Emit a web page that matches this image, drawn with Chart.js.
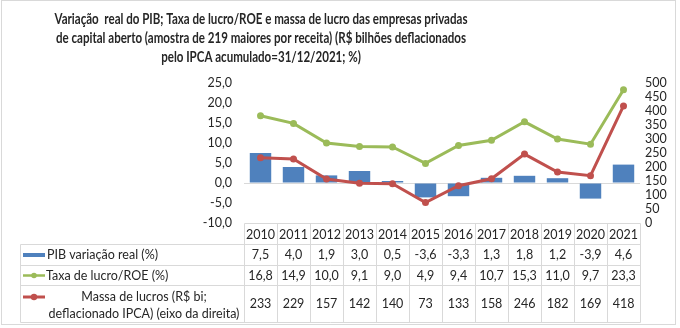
<!DOCTYPE html>
<html>
<head>
<meta charset="utf-8">
<script src="https://cdn.jsdelivr.net/npm/chart.js@4/dist/chart.umd.min.js"></script>
<style>
  html, body { margin: 0; padding: 0; background: #fff; }
  #wrap { width: 680px; height: 328px; position: relative; }
</style>
</head>
<body>
<div id="wrap"><canvas id="c" width="680" height="328"></canvas></div>
<script>
// ---- data ----
const years = ['2010','2011','2012','2013','2014','2015','2016','2017','2018','2019','2020','2021'];
const pibReal = [7.5, 4.0, 1.9, 3.0, 0.5, -3.6, -3.3, 1.3, 1.8, 1.2, -3.9, 4.6];
const taxaLucroRoe = [16.8, 14.9, 10.0, 9.1, 9.0, 4.9, 9.4, 10.7, 15.3, 11.0, 9.7, 23.3];
const massaLucros = [233, 229, 157, 142, 140, 73, 133, 158, 246, 182, 169, 418];

const leftAxis = { min: -10, max: 25, step: 5 };
const rightAxis = { min: 0, max: 500, step: 50 };

const titleLines = [
  'Variação  real do PIB; Taxa de lucro/ROE e massa de lucro das empresas privadas',
  'de capital aberto (amostra de 219 maiores por receita) (R$ bilhões deflacionados',
  'pelo IPCA acumulado=31/12/2021; %)'
];
const labelPib = 'PIB variação real (%)';
const labelRoe = 'Taxa de lucro/ROE (%)';
const labelMassa = ['Massa de lucros (R$ bi;', 'deflacionado IPCA) (eixo da direita)'];

// ---- styling ----
const BLUE = '#4F81BD';
const GREEN = '#9BBB59';
const RED = '#C0504D';
const TEXT = '#262626';
const LINE = '#d9d9d9';
const FONT = 'Lato, "Open Sans", sans-serif';

const fmt1 = v => Number(v).toFixed(1).replace('.', ',');

// title drawn above the plot, condensed to the available width
const titlePlugin = {
  id: 'chartTitle',
  afterDraw(chart) {
    const ctx = chart.ctx;
    ctx.save();
    ctx.fillStyle = TEXT;
    ctx.font = 'bold 15.5px ' + FONT;
    ctx.textBaseline = 'middle';
    ctx.textAlign = 'center';
    const widest = ctx.measureText(titleLines[1]).width;
    const sx = Math.min(1, 410 / widest);
    const cx = 261;
    const ys = [18.5, 38, 57];
    titleLines.forEach((t, i) => {
      ctx.save();
      ctx.translate(cx, ys[i]);
      ctx.scale(sx, 1);
      ctx.fillText(t, 0, 0);
      ctx.restore();
    });
    ctx.restore();
  }
};

// data table under the plot, columns aligned to the category scale
const tablePlugin = {
  id: 'dataTable',
  afterDraw(chart) {
    const { ctx, chartArea: a, scales: { x } } = chart;
    const n = years.length;
    const colW = (a.right - a.left) / n;
    const legendLeft = 20.5;
    const gridLeft = Math.round(a.left) + 0.5;
    const gridRight = Math.round(a.right) + 0.5;
    const rows = [a.bottom, a.bottom + 21, a.bottom + 41.5, a.bottom + 61.5, a.bottom + 98.5].map(v => Math.round(v) + 0.5);

    ctx.save();
    ctx.strokeStyle = LINE;
    ctx.lineWidth = 1;
    ctx.beginPath();
    // horizontal rules
    ctx.moveTo(gridLeft, rows[0]); ctx.lineTo(gridRight, rows[0]);
    for (let r = 1; r < rows.length; r++) {
      ctx.moveTo(legendLeft, rows[r]); ctx.lineTo(gridRight, rows[r]);
    }
    // vertical rules
    ctx.moveTo(legendLeft, rows[1]); ctx.lineTo(legendLeft, rows[4]);
    for (let i = 0; i <= n; i++) {
      const xx = Math.round(a.left + i * colW) + 0.5;
      ctx.moveTo(xx, rows[0]); ctx.lineTo(xx, rows[4]);
    }
    ctx.stroke();

    // cell text
    ctx.fillStyle = TEXT;
    ctx.font = '12.5px ' + FONT;
    ctx.textAlign = 'center';
    ctx.textBaseline = 'middle';
    const mid = r => (rows[r] + rows[r + 1]) / 2;
    years.forEach((yr, i) => {
      const cx = x.getPixelForValue(i);
      ctx.fillText(yr, cx, mid(0) + 0.5);
      ctx.fillText(fmt1(pibReal[i]), cx, mid(1));
      ctx.fillText(fmt1(taxaLucroRoe[i]), cx, mid(2));
      ctx.fillText(String(massaLucros[i]), cx, mid(3));
    });

    // series keys
    ctx.fillStyle = BLUE;
    ctx.fillRect(23, mid(1) - 2, 22, 4);

    ctx.strokeStyle = GREEN;
    ctx.lineWidth = 2.5;
    ctx.beginPath(); ctx.moveTo(23, mid(2)); ctx.lineTo(45, mid(2)); ctx.stroke();
    ctx.fillStyle = GREEN;
    ctx.beginPath(); ctx.arc(34, mid(2), 2.8, 0, Math.PI * 2); ctx.fill();

    const redY = mid(3) - 7;
    ctx.strokeStyle = RED;
    ctx.lineWidth = 3;
    ctx.beginPath(); ctx.moveTo(23, redY); ctx.lineTo(45, redY); ctx.stroke();
    ctx.fillStyle = RED;
    ctx.beginPath(); ctx.arc(34, redY, 3.2, 0, Math.PI * 2); ctx.fill();

    ctx.fillStyle = TEXT;
    ctx.textAlign = 'left';
    ctx.fillText(labelPib, 47, mid(1));
    ctx.fillText(labelRoe, 46, mid(2));
    ctx.textAlign = 'center';
    ctx.fillText(labelMassa[0], 144, mid(3) - 7);
    ctx.fillText(labelMassa[1], 144, mid(3) + 10);

    // outer frame
    ctx.strokeStyle = LINE;
    ctx.lineWidth = 1;
    ctx.strokeRect(1.5, 0.5, 674, 324);
    ctx.restore();
  }
};

new Chart(document.getElementById('c'), {
  type: 'bar',
  data: {
    labels: years,
    datasets: [
      {
        type: 'line',
        label: labelMassa.join(' '),
        data: massaLucros,
        yAxisID: 'y1',
        borderColor: RED,
        backgroundColor: RED,
        borderWidth: 3,
        pointRadius: 3.5,
        pointBackgroundColor: RED,
        pointBorderColor: RED,
        pointBorderWidth: 0,
        tension: 0,
        order: 1
      },
      {
        type: 'line',
        label: labelRoe,
        data: taxaLucroRoe,
        yAxisID: 'y',
        borderColor: GREEN,
        backgroundColor: GREEN,
        borderWidth: 3,
        pointRadius: 3.5,
        pointBackgroundColor: GREEN,
        pointBorderColor: GREEN,
        pointBorderWidth: 0,
        tension: 0,
        order: 2
      },
      {
        type: 'bar',
        label: labelPib,
        data: pibReal,
        yAxisID: 'y',
        backgroundColor: BLUE,
        borderWidth: 0,
        categoryPercentage: 1,
        barPercentage: 0.65,
        order: 3
      }
    ]
  },
  options: {
    responsive: false,
    animation: false,
    devicePixelRatio: 1,
    layout: { padding: { top: 83, bottom: 105, left: 0, right: 0 } },
    plugins: {
      legend: { display: false },
      title: { display: false },
      tooltip: { enabled: false }
    },
    scales: {
      x: {
        type: 'category',
        display: false,
        offset: true
      },
      y: {
        position: 'left',
        min: leftAxis.min,
        max: leftAxis.max,
        ticks: {
          stepSize: leftAxis.step,
          autoSkip: false,
          callback: v => fmt1(v),
          padding: 12,
          color: TEXT,
          font: { family: FONT, size: 12.5 }
        },
        grid: {
          drawTicks: false,
          color: c => (c.tick && c.tick.value === 0 ? LINE : 'rgba(0,0,0,0)'),
          lineWidth: 1
        },
        border: { display: false },
        afterFit(s) { s.width = 244; }
      },
      y1: {
        position: 'right',
        min: rightAxis.min,
        max: rightAxis.max,
        ticks: {
          stepSize: rightAxis.step,
          autoSkip: false,
          padding: 5,
          color: TEXT,
          font: { family: FONT, size: 12.5 }
        },
        grid: { display: false, drawTicks: false },
        border: { display: false },
        afterFit(s) { s.width = 40; }
      }
    }
  },
  plugins: [titlePlugin, tablePlugin]
});
</script>
</body>
</html>
